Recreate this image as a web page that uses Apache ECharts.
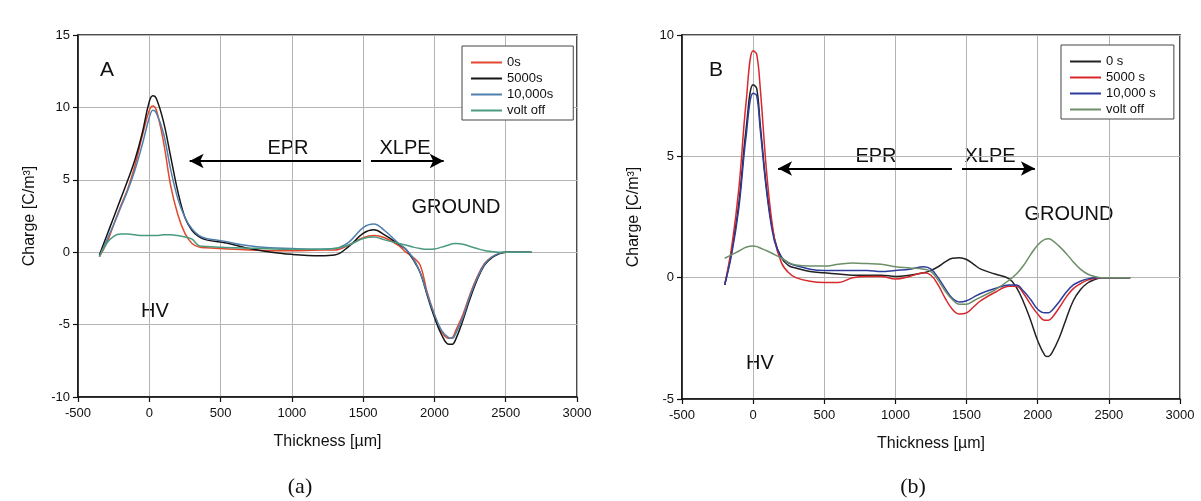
<!DOCTYPE html>
<html>
<head>
<meta charset="utf-8">
<script src="https://cdn.jsdelivr.net/npm/echarts@6/dist/echarts.min.js"></script>
<style>
  html, body { margin: 0; padding: 0; background: #ffffff; }
  #chart { width: 1201px; height: 501px; }
</style>
</head>
<body>
<div id="chart"></div>
<script>
// Panel A: space charge profiles, thickness in micrometres
const thickA = [-350, -300, -250, -200, -150, -100, -50, 0, 25, 50, 100, 150, 200, 250, 300, 350, 400, 500, 600, 700, 800, 1000, 1200, 1300, 1400, 1500, 1575, 1650, 1750, 1800, 1850, 1900, 1950, 2000, 2050, 2100, 2125, 2150, 2200, 2250, 2300, 2350, 2400, 2450, 2500, 2600, 2680];
const chargeA_0s = [-0.3, 0.6, 1.9, 3.2, 4.4, 6.0, 8.0, 9.8, 10.1, 9.8, 7.6, 4.6, 2.6, 1.3, 0.6, 0.35, 0.3, 0.25, 0.2, 0.15, 0.12, 0.1, 0.15, 0.15, 0.5, 1.0, 1.15, 1.0, 0.45, 0.0, -0.35, -0.9, -2.8, -4.3, -5.5, -5.95, -5.9, -5.4, -4.3, -2.9, -1.7, -0.8, -0.35, -0.1, 0, 0, 0];
const chargeA_5000s = [-0.2, 1.1, 2.4, 3.7, 5.0, 6.4, 8.2, 10.4, 10.8, 10.6, 9.0, 6.6, 4.2, 2.4, 1.5, 1.05, 0.85, 0.7, 0.5, 0.25, 0.08, -0.15, -0.25, -0.2, 0.4, 1.3, 1.55, 1.2, 0.55, 0.2, -0.5, -1.4, -3.0, -4.5, -5.7, -6.35, -6.35, -6.0, -4.7, -3.2, -1.9, -0.9, -0.4, -0.12, 0, 0, 0];
const chargeA_10000s = [-0.3, 0.8, 1.9, 3.1, 4.3, 5.7, 7.4, 9.3, 9.8, 9.6, 8.2, 5.7, 3.7, 2.4, 1.6, 1.15, 0.95, 0.8, 0.6, 0.45, 0.35, 0.25, 0.2, 0.25, 0.7, 1.7, 1.95, 1.5, 0.6, 0.2, -0.4, -1.4, -2.9, -4.3, -5.4, -5.9, -5.95, -5.6, -4.5, -3.0, -1.8, -0.85, -0.35, -0.1, 0, 0, 0];
const chargeA_off = [-0.3, 0.6, 1.1, 1.25, 1.25, 1.2, 1.15, 1.15, 1.15, 1.15, 1.2, 1.2, 1.15, 1.05, 0.9, 0.45, 0.4, 0.35, 0.3, 0.28, 0.25, 0.2, 0.2, 0.25, 0.5, 0.95, 1.05, 0.85, 0.6, 0.5, 0.35, 0.25, 0.2, 0.22, 0.35, 0.5, 0.58, 0.6, 0.55, 0.4, 0.25, 0.12, 0.05, 0, 0, 0, 0];

// Panel B
const thickB = [-200, -150, -100, -50, 0, 25, 50, 100, 150, 200, 250, 300, 400, 500, 600, 700, 800, 900, 1000, 1100, 1200, 1250, 1300, 1350, 1400, 1450, 1500, 1550, 1600, 1700, 1800, 1850, 1900, 1950, 2000, 2050, 2075, 2100, 2150, 2200, 2250, 2300, 2350, 2400, 2450, 2500, 2650];
const chargeB_0s = [-0.3, 1.1, 3.1, 6.1, 7.95, 7.8, 6.3, 3.4, 1.6, 0.8, 0.5, 0.4, 0.25, 0.2, 0.15, 0.1, 0.1, 0.1, 0.05, 0.1, 0.2, 0.3, 0.45, 0.65, 0.8, 0.82, 0.75, 0.55, 0.35, 0.15, -0.05, -0.4, -1.0, -1.75, -2.6, -3.2, -3.25, -3.1, -2.5, -1.7, -0.95, -0.5, -0.22, -0.08, 0, 0, 0];
const chargeB_5000s = [-0.3, 1.3, 3.7, 7.2, 9.35, 9.2, 7.8, 4.0, 1.6, 0.6, 0.2, 0.0, -0.15, -0.2, -0.2, 0.0, 0.05, 0.05, -0.05, 0.05, 0.2, 0.1, -0.3, -0.85, -1.3, -1.5, -1.45, -1.2, -0.95, -0.6, -0.35, -0.35, -0.65, -1.1, -1.5, -1.75, -1.75, -1.65, -1.25, -0.8, -0.45, -0.25, -0.1, -0.03, 0, 0, 0];
const chargeB_10000s = [-0.3, 1.0, 2.9, 5.8, 7.6, 7.5, 6.1, 3.3, 1.5, 0.85, 0.6, 0.5, 0.35, 0.3, 0.3, 0.3, 0.3, 0.25, 0.3, 0.35, 0.45, 0.35, 0.0, -0.45, -0.85, -1.0, -0.95, -0.8, -0.65, -0.45, -0.3, -0.3, -0.55, -0.9, -1.3, -1.45, -1.45, -1.35, -1.0, -0.6, -0.3, -0.15, -0.05, 0, 0, 0, 0];
const chargeB_off = [0.8, 0.95, 1.1, 1.25, 1.3, 1.28, 1.22, 1.1, 0.95, 0.8, 0.62, 0.52, 0.48, 0.48, 0.55, 0.6, 0.58, 0.55, 0.45, 0.4, 0.35, 0.25, -0.1, -0.55, -0.9, -1.1, -1.1, -0.95, -0.8, -0.5, -0.1, 0.15, 0.5, 0.95, 1.35, 1.58, 1.6, 1.55, 1.3, 1.0, 0.65, 0.35, 0.15, 0.05, 0, 0, 0];

// Legend names
const namesA = ['0s', '5000s', '10,000s', 'volt off'];
const namesB = ['0 s', '5000 s', '10,000 s', 'volt off'];
const colorsA = ['#e2482c', '#151515', '#4f7fae', '#4a9a80'];
const colorsB = ['#222222', '#d8282c', '#2c3c9c', '#6c8f68'];

// Axis ticks
const xTicks = { min: -500, max: 3000, interval: 500 };
const yTicksA = { min: -10, max: 15, interval: 5 };
const yTicksB = { min: -5, max: 10, interval: 5 };

const FONT = '"Liberation Sans", Arial, sans-serif';

function pairs(xs, ys) { return xs.map((x, i) => [x, ys[i]]); }
const plain = v => String(v);

function xAxisCfg(gridIndex) {
  return {
    type: 'value', gridIndex, min: xTicks.min, max: xTicks.max, interval: xTicks.interval,
    name: 'Thickness [\u00b5m]', nameLocation: 'middle', nameGap: 37,
    nameTextStyle: { fontFamily: FONT, fontSize: 16, color: '#111' },
    axisLine: { onZero: false, lineStyle: { color: '#111', width: 1.5 } },
    axisTick: { show: true, inside: false, length: 5, lineStyle: { color: '#111', width: 1.2 } },
    axisLabel: { fontFamily: FONT, fontSize: 13, color: '#111', margin: 10, formatter: plain },
    splitLine: { show: true, lineStyle: { color: '#b4b4b4', width: 1 } }
  };
}
function yAxisCfg(gridIndex, t) {
  return {
    type: 'value', gridIndex, min: t.min, max: t.max, interval: t.interval,
    name: 'Charge [C/m\u00b3]', nameLocation: 'middle', nameGap: 40, nameRotate: 90,
    nameTextStyle: { fontFamily: FONT, fontSize: 16, color: '#111' },
    axisLine: { onZero: false, lineStyle: { color: '#111', width: 1.5 } },
    axisTick: { show: true, inside: false, length: 5, lineStyle: { color: '#111', width: 1.2 } },
    axisLabel: { fontFamily: FONT, fontSize: 13, color: '#111', margin: 8, formatter: plain },
    splitLine: { show: true, lineStyle: { color: '#b4b4b4', width: 1 } }
  };
}

function lineSeries(name, xs, ys, color, idx) {
  return {
    type: 'line', name, xAxisIndex: idx, yAxisIndex: idx,
    data: pairs(xs, ys), smooth: 0.4,
    showSymbol: false, symbol: 'none',
    lineStyle: { color, width: 1.5 }, itemStyle: { color },
    z: 3
  };
}

function arrows(y, eprFrom, eprTo, xlpeFrom, xlpeTo) {
  return {
    silent: true, animation: false,
    symbol: ['none', 'arrow'], symbolSize: [11, 14],
    label: { show: false },
    lineStyle: { color: '#000', width: 2, type: 'solid' },
    data: [
      [{ coord: [eprFrom, y] }, { coord: [eprTo, y] }],
      [{ coord: [xlpeFrom, y] }, { coord: [xlpeTo, y] }]
    ]
  };
}

const dataA = [chargeA_0s, chargeA_5000s, chargeA_10000s, chargeA_off];
const dataB = [chargeB_0s, chargeB_5000s, chargeB_10000s, chargeB_off];

const series = [];
namesA.forEach((n, i) => series.push(lineSeries(n, thickA, dataA[i], colorsA[i], 0)));
namesB.forEach((n, i) => series.push(lineSeries(n, thickB, dataB[i], colorsB[i], 1)));
series[3].markLine = arrows(6.3, 1485, 283, 1555, 2065);
series[7].markLine = arrows(4.5, 1397, 175, 1468, 1980);

function legendCfg(names, colors, left, top, padRight) {
  return {
    left, top, orient: 'vertical',
    data: names.map((n, i) => ({ name: n, itemStyle: { color: colors[i] }, lineStyle: { color: colors[i] } })),
    icon: 'rect', itemWidth: 31, itemHeight: 2, itemGap: 3,
    padding: [10, padRight, 3, 9],
    backgroundColor: '#ffffff', borderColor: '#444', borderWidth: 1, borderRadius: 0,
    textStyle: { fontFamily: FONT, fontSize: 13, color: '#111' },
    selectedMode: false
  };
}

function label(text, x, y, size, family) {
  return {
    type: 'text', x, y, silent: true,
    style: { text, fontSize: size, fontFamily: family || FONT, fill: '#111', align: 'center', verticalAlign: 'middle' }
  };
}

const option = {
  animation: false,
  backgroundColor: '#ffffff',
  grid: [
    { left: 78, top: 35, width: 499, height: 362, show: true, borderColor: '#111', borderWidth: 1.5, backgroundColor: 'transparent' },
    { left: 682, top: 35, width: 498, height: 364, show: true, borderColor: '#111', borderWidth: 1.5, backgroundColor: 'transparent' }
  ],
  xAxis: [xAxisCfg(0), xAxisCfg(1)],
  yAxis: [yAxisCfg(0, yTicksA), yAxisCfg(1, yTicksB)],
  legend: [legendCfg(namesA, colorsA, 462, 46, 20), legendCfg(namesB, colorsB, 1061, 45, 18)],
  graphic: [
    label('A', 107, 70, 21),
    label('EPR', 288, 148, 20),
    label('XLPE', 405, 148, 20),
    label('GROUND', 456, 207, 20),
    label('HV', 155, 311, 20),
    label('(a)', 300, 487, 22, '"Liberation Serif", "Times New Roman", serif'),
    label('B', 716, 70, 21),
    label('EPR', 876, 156, 20),
    label('XLPE', 990, 156, 20),
    label('GROUND', 1069, 214, 20),
    label('HV', 760, 363, 20),
    label('(b)', 913, 487, 22, '"Liberation Serif", "Times New Roman", serif')
  ],
  series
};

const chart = echarts.init(document.getElementById('chart'), null, { renderer: 'canvas' });
chart.setOption(option);
</script>
</body>
</html>
